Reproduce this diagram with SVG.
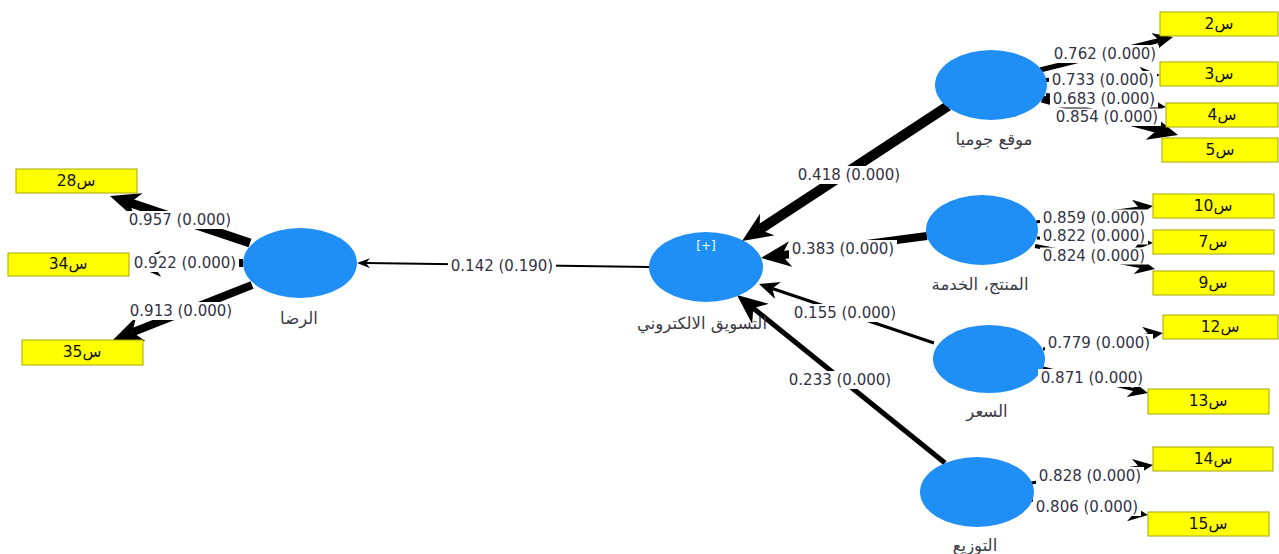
<svg xmlns="http://www.w3.org/2000/svg" width="1279" height="554" viewBox="0 0 1279 554">
<style>
.bg{fill:#ffffff}
.ln{stroke:#000;fill:none;stroke-linecap:butt}
.lv{fill:#1f8ff5}
.ind{fill:#ffff00;stroke:#a8a800;stroke-width:1}
.it{font-family:"DejaVu Sans","Liberation Sans",sans-serif;font-size:15.5px;fill:#111;text-anchor:middle;dominant-baseline:central}
.nl{font-family:"DejaVu Sans","Noto Sans",sans-serif;font-size:16.5px;fill:#3a3a44;text-anchor:middle;dominant-baseline:central}
.lb{font-family:"DejaVu Sans","Liberation Sans",sans-serif;font-size:15px;fill:#333344;text-anchor:middle;dominant-baseline:central}
.lr{fill:#ffffff}
</style>
<defs>
<marker id="ah-l" markerUnits="userSpaceOnUse" markerWidth="30" markerHeight="26" refX="9" refY="13" orient="auto"><path d="M0,0 L30,13 L0,26 L9,13 z" fill="#000"/></marker>
<marker id="ah-m" markerUnits="userSpaceOnUse" markerWidth="20" markerHeight="18" refX="6" refY="9" orient="auto"><path d="M0,0 L20,9 L0,18 L6,9 z" fill="#000"/></marker>
<marker id="ah-s" markerUnits="userSpaceOnUse" markerWidth="13" markerHeight="10" refX="4" refY="5" orient="auto"><path d="M0,0 L13,5 L0,10 L4,5 z" fill="#000"/></marker>
</defs>
<rect class="bg" x="0" y="0" width="1279" height="554"/>
<g id="connectors">
<line class="ln" x1="948" y1="106" x2="759.6" y2="229.5" stroke-width="10" marker-end="url(#ah-l)"/>
<line class="ln" x1="927" y1="236" x2="781.8" y2="255.2" stroke-width="8" marker-end="url(#ah-l)"/>
<line class="ln" x1="934" y1="343" x2="772.3" y2="288.5" stroke-width="3" marker-end="url(#ah-m)"/>
<line class="ln" x1="945" y1="463" x2="753.3" y2="308.2" stroke-width="5" marker-end="url(#ah-l)"/>
<line class="ln" x1="649" y1="267" x2="366" y2="263.1" stroke-width="2" marker-end="url(#ah-s)"/>
<line class="ln" x1="250" y1="243" x2="129.9" y2="202.7" stroke-width="9" marker-end="url(#ah-l)"/>
<line class="ln" x1="243" y1="263" x2="152" y2="263.8" stroke-width="8" marker-end="url(#ah-l)"/>
<line class="ln" x1="252" y1="285" x2="132.5" y2="332.3" stroke-width="8" marker-end="url(#ah-l)"/>
<line class="ln" x1="1040" y1="70" x2="1159.4" y2="40.4" stroke-width="5" marker-end="url(#ah-m)"/>
<line class="ln" x1="1046" y1="80" x2="1146" y2="75.6" stroke-width="4" marker-end="url(#ah-m)"/>
<line class="ln" x1="1046" y1="95" x2="1152.1" y2="105.6" stroke-width="4" marker-end="url(#ah-m)"/>
<line class="ln" x1="1042" y1="99" x2="1157.7" y2="129.6" stroke-width="7" marker-end="url(#ah-l)"/>
<line class="ln" x1="1036" y1="222" x2="1139.1" y2="207.9" stroke-width="3" marker-end="url(#ah-m)"/>
<line class="ln" x1="1037" y1="238" x2="1139" y2="242.4" stroke-width="3" marker-end="url(#ah-m)"/>
<line class="ln" x1="1035" y1="246" x2="1141.3" y2="266.4" stroke-width="4" marker-end="url(#ah-m)"/>
<line class="ln" x1="1043" y1="349" x2="1149.1" y2="334.8" stroke-width="3" marker-end="url(#ah-m)"/>
<line class="ln" x1="1043" y1="368" x2="1134.4" y2="389.8" stroke-width="3" marker-end="url(#ah-m)"/>
<line class="ln" x1="1031" y1="483" x2="1139.2" y2="467" stroke-width="3" marker-end="url(#ah-m)"/>
<line class="ln" x1="1031" y1="500" x2="1134.1" y2="513.2" stroke-width="3" marker-end="url(#ah-m)"/>
</g>
<g id="node-jumia"><ellipse class="lv" cx="991" cy="85" rx="56" ry="35"/><text class="nl" x="994" y="139">موقع جوميا</text></g>
<g id="node-product"><ellipse class="lv" cx="982" cy="230" rx="56" ry="35"/><text class="nl" x="980" y="284">المنتج، الخدمة</text></g>
<g id="node-price"><ellipse class="lv" cx="989" cy="359" rx="56" ry="34"/><text class="nl" x="987" y="411">السعر</text></g>
<g id="node-distribution"><ellipse class="lv" cx="977" cy="492" rx="57" ry="35"/><text class="nl" x="975" y="545">التوزيع</text></g>
<g id="node-satisfaction"><ellipse class="lv" cx="300" cy="263" rx="57" ry="35"/><text class="nl" x="299" y="318">الرضا</text></g>
<g id="node-emarketing"><ellipse class="lv" cx="706" cy="267" rx="57" ry="35"/><text x="706" y="246" font-family="DejaVu Sans,sans-serif" font-size="12" fill="#fff" text-anchor="middle" dominant-baseline="central">[+]</text><text class="nl" x="702" y="323">التسويق الالكتروني</text></g>
<g id="ind-s2"><rect class="ind" x="1160" y="12" width="118" height="24"/><text class="it" x="1219" y="24">س2</text></g>
<g id="ind-s3"><rect class="ind" x="1160" y="62" width="118" height="24"/><text class="it" x="1219" y="74">س3</text></g>
<g id="ind-s4"><rect class="ind" x="1166" y="103" width="112" height="24"/><text class="it" x="1222" y="115">س4</text></g>
<g id="ind-s5"><rect class="ind" x="1162" y="138" width="116" height="24"/><text class="it" x="1220" y="150">س5</text></g>
<g id="ind-s10"><rect class="ind" x="1153" y="194" width="121" height="24"/><text class="it" x="1213" y="206">س10</text></g>
<g id="ind-s7"><rect class="ind" x="1153" y="230" width="121" height="24"/><text class="it" x="1213" y="242">س7</text></g>
<g id="ind-s9"><rect class="ind" x="1153" y="271" width="121" height="24"/><text class="it" x="1213" y="283">س9</text></g>
<g id="ind-s12"><rect class="ind" x="1163" y="315" width="115" height="24"/><text class="it" x="1220" y="327">س12</text></g>
<g id="ind-s13"><rect class="ind" x="1148" y="389" width="121" height="25"/><text class="it" x="1208" y="401">س13</text></g>
<g id="ind-s14"><rect class="ind" x="1153" y="447" width="120" height="24"/><text class="it" x="1213" y="459">س14</text></g>
<g id="ind-s15"><rect class="ind" x="1148" y="512" width="121" height="24"/><text class="it" x="1208" y="524">س15</text></g>
<g id="ind-s28"><rect class="ind" x="16" y="169" width="121" height="24"/><text class="it" x="76" y="181">س28</text></g>
<g id="ind-s34"><rect class="ind" x="8" y="253" width="121" height="23"/><text class="it" x="68" y="264">س34</text></g>
<g id="ind-s35"><rect class="ind" x="22" y="340" width="121" height="25"/><text class="it" x="82" y="352">س35</text></g>
<g id="connector-labels">
<rect class="lr" x="795" y="166" width="108" height="18"/><text class="lb" x="849" y="175">0.418 (0.000)</text>
<rect class="lr" x="789" y="240" width="108" height="18"/><text class="lb" x="843" y="249">0.383 (0.000)</text>
<rect class="lr" x="791" y="304" width="108" height="18"/><text class="lb" x="845" y="313">0.155 (0.000)</text>
<rect class="lr" x="786" y="371" width="108" height="18"/><text class="lb" x="840" y="380">0.233 (0.000)</text>
<rect class="lr" x="448" y="257" width="108" height="18"/><text class="lb" x="502" y="266">0.142 (0.190)</text>
<rect class="lr" x="126" y="211" width="108" height="18"/><text class="lb" x="180" y="220">0.957 (0.000)</text>
<rect class="lr" x="131" y="254" width="108" height="18"/><text class="lb" x="185" y="263">0.922 (0.000)</text>
<rect class="lr" x="127" y="302" width="108" height="18"/><text class="lb" x="181" y="311">0.913 (0.000)</text>
<rect class="lr" x="1051" y="45" width="108" height="18"/><text class="lb" x="1105" y="54">0.762 (0.000)</text>
<rect class="lr" x="1049" y="71" width="108" height="18"/><text class="lb" x="1103" y="80">0.733 (0.000)</text>
<rect class="lr" x="1050" y="90" width="108" height="17.5"/><text class="lb" x="1104" y="99">0.683 (0.000)</text>
<rect class="lr" x="1053" y="108.5" width="108" height="17.5"/><text class="lb" x="1107" y="117">0.854 (0.000)</text>
<rect class="lr" x="1040" y="209.5" width="108" height="17"/><text class="lb" x="1094" y="218">0.859 (0.000)</text>
<rect class="lr" x="1040" y="227.5" width="108" height="17"/><text class="lb" x="1094" y="236">0.822 (0.000)</text>
<rect class="lr" x="1040" y="247.5" width="108" height="17"/><text class="lb" x="1094" y="256">0.824 (0.000)</text>
<rect class="lr" x="1045" y="334" width="108" height="18"/><text class="lb" x="1099" y="343">0.779 (0.000)</text>
<rect class="lr" x="1038" y="369" width="108" height="18"/><text class="lb" x="1092" y="378">0.871 (0.000)</text>
<rect class="lr" x="1036" y="467" width="108" height="18"/><text class="lb" x="1090" y="476">0.828 (0.000)</text>
<rect class="lr" x="1033" y="498" width="108" height="18"/><text class="lb" x="1087" y="507">0.806 (0.000)</text>
</g>
</svg>
